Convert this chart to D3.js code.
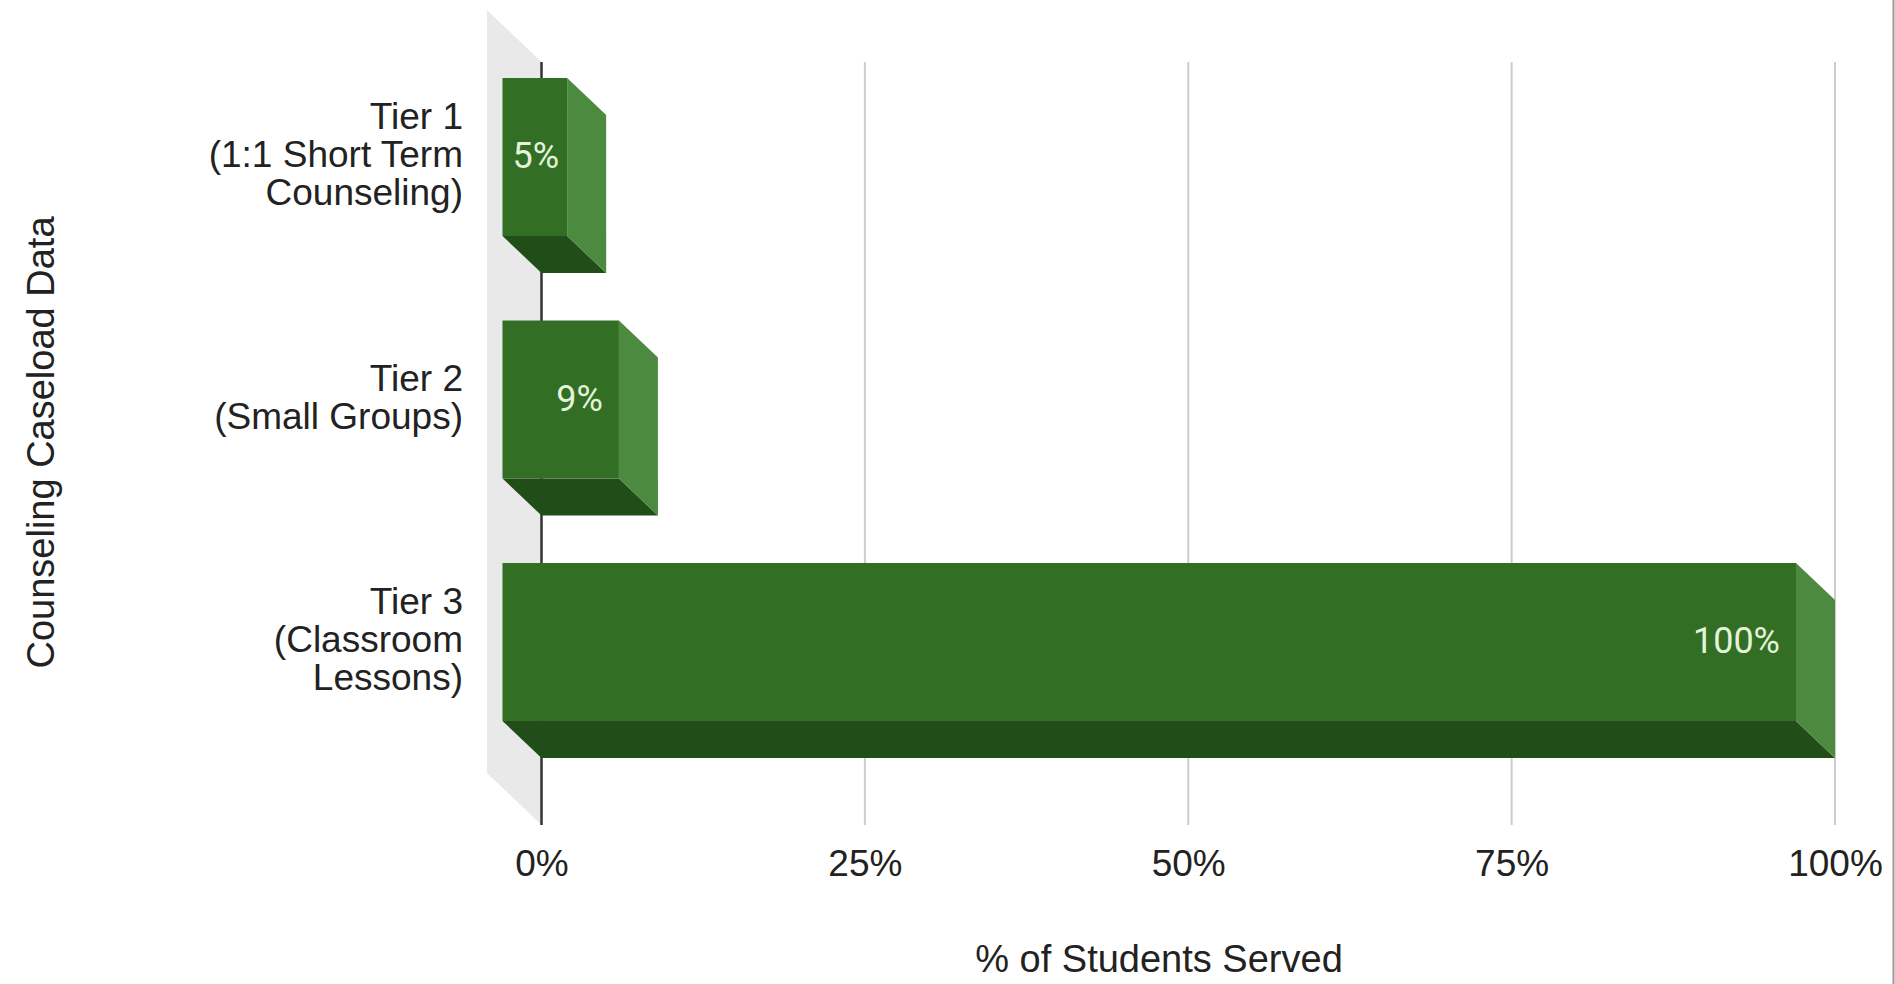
<!DOCTYPE html>
<html>
<head>
<meta charset="utf-8">
<script src="https://cdn.jsdelivr.net/npm/d3@7"></script>
<style>
  html, body { margin: 0; padding: 0; background: #fff; }
  svg { display: block; }
</style>
</head>
<body>
<svg id="chart" width="1895" height="984"></svg>
<script>
// ---- data ----
const categories = ["Tier 1", "Tier 2", "Tier 3"];
const categoryLines = [
  ["Tier 1", "(1:1 Short Term", "Counseling)"],
  ["Tier 2", "(Small Groups)"],
  ["Tier 3", "(Classroom", "Lessons)"]
];
const values = [5, 9, 100];
const valueLabels = ["5%", "9%", "100%"];
const xTicks = [0, 25, 50, 75, 100];
const xTitle = "% of Students Served";
const yTitle = "Counseling Caseload Data";

// ---- layout ----
const svg = d3.select("#chart");
const x = d3.scaleLinear().domain([0, 100]).range([541.5, 1835]);
const y = d3.scaleBand().domain(categories).range([30.5, 842.5]).padding(0.3485);
const dx = 39, dy = 37;          // bar depth offset
const wallDx = 54.5, wallDy = 52; // wall depth
const gridTop = 62, gridBottom = 825;

const fontMain = "'Liberation Sans', Arial, sans-serif";

// back wall
svg.append("polygon")
  .attr("points", [
    [x(0) - wallDx, gridTop - wallDy],
    [x(0), gridTop],
    [x(0), gridBottom],
    [x(0) - wallDx, gridBottom - wallDy]
  ].map(p => p.join(",")).join(" "))
  .attr("fill", "#e9e9e9");

// gridlines
svg.append("g").selectAll("line")
  .data(xTicks.filter(t => t !== 0))
  .join("line")
  .attr("x1", d => x(d)).attr("x2", d => x(d))
  .attr("y1", gridTop).attr("y2", gridBottom)
  .attr("stroke", "#cccccc").attr("stroke-width", 2);

// zero axis line
svg.append("line")
  .attr("x1", x(0)).attr("x2", x(0))
  .attr("y1", gridTop).attr("y2", gridBottom)
  .attr("stroke", "#333333").attr("stroke-width", 2.5);

// bars (3D)
const bars = svg.append("g").selectAll("g")
  .data(categories.map((c, i) => ({ c, v: values[i], label: valueLabels[i], lines: categoryLines[i] })))
  .join("g");

// bottom face
bars.append("polygon")
  .attr("points", d => {
    const x0 = x(0), x1 = x(d.v), yb = y(d.c) + y.bandwidth();
    return [[x0 - dx, yb - dy], [x1 - dx, yb - dy], [x1, yb], [x0, yb]].map(p => p.join(",")).join(" ");
  })
  .attr("fill", "#214d18");

// right side face
bars.append("polygon")
  .attr("points", d => {
    const x1 = x(d.v), yt = y(d.c), yb = y(d.c) + y.bandwidth();
    return [[x1 - dx, yt - dy], [x1, yt], [x1, yb], [x1 - dx, yb - dy]].map(p => p.join(",")).join(" ");
  })
  .attr("fill", "#4c8a3f");

// front face
bars.append("rect")
  .attr("x", d => x(0) - dx)
  .attr("y", d => y(d.c) - dy)
  .attr("width", d => x(d.v) - x(0))
  .attr("height", y.bandwidth())
  .attr("fill", "#326f24");

// value labels
bars.append("text")
  .attr("font-family", "Roboto, 'Noto Sans', sans-serif")
  .attr("font-size", 36)
  .attr("font-weight", 400)
  .attr("fill", "#e4f3da")
  .attr("text-anchor", "end")
  .attr("y", d => y(d.c) - dy + y.bandwidth() / 2 + 11)
  .text(d => d.label)
  .each(function (d) {
    const w = this.getComputedTextLength();
    const left = x(0) - dx, right = x(d.v) - dx;
    let r = right - 16;
    if (r - w < left + 10) r = left + 10 + w;
    d3.select(this).attr("x", r);
  });

// category labels
bars.append("text")
  .attr("font-family", fontMain)
  .attr("font-size", 37)
  .attr("fill", "#222222")
  .attr("text-anchor", "end")
  .each(function (d) {
    const n = d.lines.length, lh = 38;
    const cy = y(d.c) - dy + y.bandwidth() / 2 - 3;
    d3.select(this).selectAll("tspan")
      .data(d.lines)
      .join("tspan")
      .attr("x", 463)
      .attr("y", (l, i) => cy + (i - (n - 1) / 2) * lh + 13)
      .text(l => l);
  });

// x tick labels
const xAxis = d3.axisBottom(x).tickValues(xTicks).tickSize(0).tickPadding(0)
  .tickFormat(d => d + "%");
const gx = svg.append("g").attr("transform", "translate(0,849)").call(xAxis);
gx.select(".domain").remove();
gx.selectAll("text")
  .attr("font-family", fontMain)
  .attr("font-size", 37)
  .attr("fill", "#222222")
  .attr("dy", "0.72em");

// axis titles
svg.append("text")
  .attr("x", 1159).attr("y", 972)
  .attr("text-anchor", "middle")
  .attr("font-family", fontMain)
  .attr("font-size", 38)
  .attr("fill", "#222222")
  .text(xTitle);

svg.append("text")
  .attr("transform", "translate(54,442.5) rotate(-90)")
  .attr("text-anchor", "middle")
  .attr("font-family", fontMain)
  .attr("font-size", 38)
  .attr("fill", "#222222")
  .text(yTitle);

// right border line
svg.append("line")
  .attr("x1", 1893.5).attr("x2", 1893.5)
  .attr("y1", 0).attr("y2", 984)
  .attr("stroke", "#9a9a9a").attr("stroke-width", 2);
</script>
</body>
</html>
